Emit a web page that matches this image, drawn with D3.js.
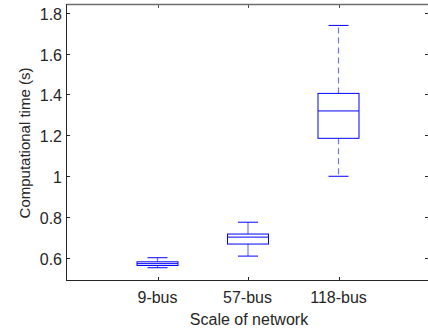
<!DOCTYPE html>
<html><head><meta charset="utf-8">
<script src="https://cdn.jsdelivr.net/npm/d3@7"></script>
<style>body{margin:0;background:#fff}svg{display:block}text{font-family:"Liberation Sans",Arial,sans-serif;fill:#262626}</style>
</head><body>
<script>
const categories = ["9-bus","57-bus","118-bus"];
const lowerWhisker = [0.551, 0.608, 0.999];
const q1 = [0.562, 0.667, 1.185];
const median = [0.571, 0.701, 1.319];
const q3 = [0.580, 0.716, 1.405];
const upperWhisker = [0.600, 0.774, 1.738];
const yTicks = [0.6, 0.8, 1.0, 1.2, 1.4, 1.6, 1.8];
const yTickLabels = ["0.6","0.8","1","1.2","1.4","1.6","1.8"];

const W = 428, H = 333;
const L = 67, R = 429, T = 5, B = 280;
const svg = d3.select("body").append("svg").attr("width", W).attr("height", H);
const x = d3.scaleLinear().domain([0, 4]).range([L, R]);
const y = d3.scaleLinear().domain([0.4909, 1.838]).range([B, T]);
const axisCol = "#262626";

// frame
svg.append("line").attr("x1", L).attr("x2", W).attr("y1", T - 0.5).attr("y2", T - 0.5).attr("stroke", "#6e6e6e").attr("stroke-width", 1.4);
svg.append("line").attr("x1", L - 0.5).attr("x2", L - 0.5).attr("y1", T - 1).attr("y2", B + 0.5).attr("stroke", axisCol);
svg.append("line").attr("x1", L - 1).attr("x2", W).attr("y1", B + 0.5).attr("y2", B + 0.5).attr("stroke", axisCol);

// y ticks
const yt = svg.append("g");
yTicks.forEach((v, i) => {
  const py = Math.round(y(v)) + 0.5;
  yt.append("line").attr("x1", L).attr("x2", L + 3).attr("y1", py).attr("y2", py).attr("stroke", axisCol);
  yt.append("line").attr("x1", W - 3).attr("x2", W).attr("y1", py).attr("y2", py).attr("stroke", axisCol);
  yt.append("text").attr("x", L - 5).attr("y", py + 6).attr("text-anchor", "end").attr("font-size", 16).text(yTickLabels[i]);
});
// x ticks
categories.forEach((c, i) => {
  const px = Math.round(x(i + 1)) + 0.5;
  svg.append("line").attr("x1", px).attr("x2", px).attr("y1", B).attr("y2", B - 3).attr("stroke", axisCol);
  svg.append("line").attr("x1", px).attr("x2", px).attr("y1", T).attr("y2", T + 3).attr("stroke", "#555");
  svg.append("text").attr("x", px - 1).attr("y", 303).attr("text-anchor", "middle").attr("font-size", 16).text(c);
});

svg.append("text").attr("x", 249).attr("y", 325).attr("text-anchor", "middle").attr("font-size", 16).text("Scale of network");
svg.append("text").attr("transform", `translate(30,143) rotate(-90)`).attr("text-anchor", "middle").attr("font-size", 15).text("Computational time (s)");

// boxes
const blue = "#0000ff";
const bw = 41, cw = 20;
categories.forEach((c, i) => {
  const cx = x(i + 1);
  const g = svg.append("g");
  const dash = i === 2 ? "6,4" : null;
  g.append("line").attr("x1", cx).attr("x2", cx).attr("y1", y(q3[i])).attr("y2", y(upperWhisker[i]))
    .attr("stroke", blue).attr("stroke-opacity", 0.55).attr("stroke-width", 1.2).attr("stroke-dasharray", dash);
  g.append("line").attr("x1", cx).attr("x2", cx).attr("y1", y(q1[i])).attr("y2", y(lowerWhisker[i]))
    .attr("stroke", blue).attr("stroke-opacity", 0.55).attr("stroke-width", 1.2).attr("stroke-dasharray", dash);
  [upperWhisker[i], lowerWhisker[i]].forEach(v => {
    g.append("line").attr("x1", cx - cw / 2).attr("x2", cx + cw / 2).attr("y1", y(v)).attr("y2", y(v))
      .attr("stroke", blue).attr("stroke-width", 1);
  });
  g.append("rect").attr("x", cx - bw / 2).attr("y", y(q3[i])).attr("width", bw).attr("height", y(q1[i]) - y(q3[i]))
    .attr("fill", "none").attr("stroke", blue).attr("stroke-width", 1);
  g.append("line").attr("x1", cx - bw / 2).attr("x2", cx + bw / 2).attr("y1", y(median[i])).attr("y2", y(median[i]))
    .attr("stroke", blue).attr("stroke-width", 1);
});
</script>
</body></html>
